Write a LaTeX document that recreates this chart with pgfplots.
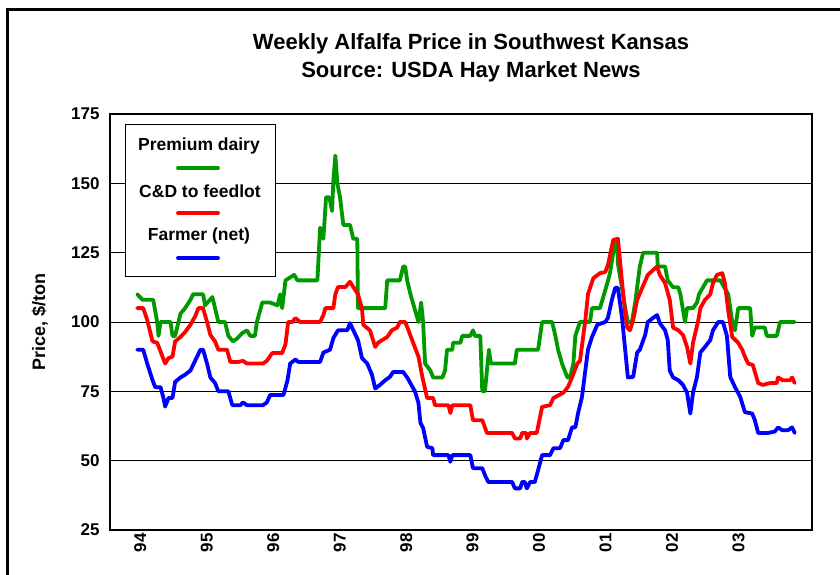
\documentclass[border=0pt]{standalone}
\usepackage{pgfplots}
\pgfplotsset{compat=1.18}
\usepackage{fontspec}
\setmainfont{Liberation Sans}
\definecolor{cgreen}{RGB}{0,153,0}
\definecolor{cred}{RGB}{255,0,0}
\definecolor{cblue}{RGB}{0,0,255}
\begin{document}
\begin{tikzpicture}
\useasboundingbox (0pt,0pt) rectangle (840pt,575pt);
\draw[line width=3pt] (7pt,-20pt) -- (7pt,565pt) -- (870pt,565pt);
\node[font=\bfseries\fontsize{22}{28.5}\selectfont, align=center] at (471pt,517pt) {Weekly Alfalfa Price in Southwest Kansas\\Source: USDA Hay Market News};
\begin{axis}[
  at={(110pt,45pt)}, anchor=south west,
  width=702pt, height=416pt, scale only axis,
  xmin=1993.56, xmax=2004.12, ymin=25, ymax=175,
  ytick={25,50,75,100,125,150,175},
  xtick={1994,1995,1996,1997,1998,1999,2000,2001,2002,2003},
  xticklabels={94,95,96,97,98,99,00,01,02,03},
  major tick length=0pt,
  ymajorgrids, major grid style={black, line width=0.9pt},
  axis line style={line width=2.6pt},
  /pgf/number format/assume math mode=true,
  ticklabel style={font=\bfseries\fontsize{17}{17}\selectfont},
  xticklabel style={rotate=90, anchor=east, yshift=-1pt},
  yticklabel style={xshift=-7pt},
  ylabel={Price, \$/ton},
  ylabel style={font=\bfseries\fontsize{18}{18}\selectfont, at={(axis description cs:-0.1,0.5)}, anchor=center},
  every axis plot/.append style={line width=3.8pt, line join=round, line cap=round},
]
\addplot[cgreen] coordinates {(1993.97,110)(1994.05,108)(1994.21,108)(1994.27,100)(1994.29,95)(1994.32,100)(1994.47,100)(1994.50,95)(1994.54,95)(1994.62,103)(1994.69,105)(1994.77,108)(1994.81,110)(1994.96,110)(1994.99,106)(1995.10,109)(1995.14,105)(1995.19,100)(1995.29,100)(1995.34,95)(1995.41,93)(1995.47,94)(1995.55,96)(1995.62,97)(1995.67,95)(1995.74,95)(1995.77,100)(1995.85,107)(1995.97,107)(1996.08,106)(1996.12,110)(1996.15,105)(1996.20,115)(1996.33,117)(1996.38,115)(1996.68,115)(1996.72,134)(1996.77,130)(1996.81,145)(1996.86,145)(1996.90,140)(1996.92,151)(1996.95,160)(1996.98,150)(1997.02,145)(1997.07,135)(1997.17,135)(1997.22,130)(1997.28,130)(1997.29,105)(1997.70,105)(1997.73,115)(1997.92,115)(1997.97,120)(1998.00,120)(1998.03,115)(1998.08,110)(1998.14,105)(1998.20,100)(1998.24,107)(1998.27,100)(1998.30,85)(1998.38,82.5)(1998.42,80)(1998.56,80)(1998.60,82.5)(1998.63,90)(1998.71,90)(1998.72,92.5)(1998.83,92.5)(1998.86,95)(1998.98,95)(1999.02,97)(1999.05,95)(1999.13,95)(1999.16,75)(1999.20,75)(1999.26,90)(1999.29,85)(1999.65,85)(1999.68,90)(2000.00,90)(2000.06,100)(2000.21,100)(2000.26,95)(2000.30,90)(2000.36,85)(2000.44,80)(2000.48,80)(2000.53,85)(2000.56,95)(2000.63,100)(2000.78,100)(2000.81,105)(2000.93,105)(2000.98,109)(2001.04,114)(2001.08,117.5)(2001.13,125)(2001.19,130)(2001.20,121)(2001.26,112.5)(2001.31,105)(2001.35,100)(2001.41,100)(2001.46,107)(2001.53,120)(2001.58,125)(2001.79,125)(2001.80,120)(2001.91,120)(2001.95,115)(2002.03,112.5)(2002.11,112.5)(2002.14,110)(2002.21,100)(2002.24,105)(2002.33,105)(2002.39,107)(2002.42,110)(2002.48,112.5)(2002.54,115)(2002.74,115)(2002.86,110)(2002.92,100)(2002.96,97)(2003.01,105)(2003.19,105)(2003.22,95)(2003.26,98)(2003.41,98)(2003.44,95)(2003.59,95)(2003.64,100)(2003.86,100)};
\addplot[cred] coordinates {(1993.97,105)(1994.06,105)(1994.12,100.7)(1994.20,93)(1994.27,92.5)(1994.35,87.5)(1994.39,85)(1994.44,87)(1994.50,87.5)(1994.54,93)(1994.62,94.6)(1994.69,96.4)(1994.77,99)(1994.84,102)(1994.89,105)(1994.96,105)(1995.02,100)(1995.07,95.3)(1995.14,93)(1995.19,90)(1995.32,90)(1995.37,85.6)(1995.49,85.6)(1995.56,86)(1995.62,85)(1995.86,85)(1995.92,86)(1996.00,88.8)(1996.15,88.8)(1996.20,92)(1996.24,100)(1996.30,100)(1996.35,101.4)(1996.42,100)(1996.72,100)(1996.77,102.5)(1996.80,105)(1996.92,105)(1996.95,110)(1996.99,112.6)(1997.10,112.6)(1997.17,114.5)(1997.22,112.6)(1997.29,110)(1997.35,105)(1997.37,99)(1997.47,97)(1997.55,91)(1997.59,92.5)(1997.73,94.6)(1997.80,97)(1997.88,98)(1997.92,100)(1998.00,100)(1998.05,97)(1998.12,92.5)(1998.20,87.5)(1998.26,80)(1998.33,72.6)(1998.42,72.6)(1998.45,70)(1998.65,70)(1998.68,67.2)(1998.71,70)(1998.98,70)(1999.02,64.6)(1999.16,64.6)(1999.23,60)(1999.61,60)(1999.65,58)(1999.73,58)(1999.76,60)(1999.82,60)(1999.83,58)(1999.88,60)(1999.98,60)(2000.06,69.4)(2000.18,70)(2000.23,72.6)(2000.38,74.5)(2000.45,76.6)(2000.51,80)(2000.59,85)(2000.63,86)(2000.71,100.7)(2000.75,110)(2000.83,115.8)(2000.93,117.6)(2001.01,118)(2001.05,120.5)(2001.13,129.6)(2001.20,130)(2001.26,115)(2001.31,103)(2001.34,98)(2001.38,97)(2001.43,100.7)(2001.49,108)(2001.56,112)(2001.65,117)(2001.79,120)(2001.83,117)(2001.91,114)(2001.98,108)(2002.03,98)(2002.11,97)(2002.18,95.3)(2002.24,91)(2002.29,85)(2002.33,92.5)(2002.41,100.7)(2002.44,105)(2002.51,108)(2002.59,110)(2002.63,114)(2002.69,117)(2002.77,117.6)(2002.81,114)(2002.86,104)(2002.92,94.6)(2003.01,92.5)(2003.07,90)(2003.11,87.5)(2003.16,85)(2003.23,84.5)(2003.31,78)(2003.38,77.3)(2003.49,78)(2003.59,78)(2003.61,80)(2003.68,79)(2003.79,79)(2003.82,80)(2003.86,78)};
\addplot[cblue] coordinates {(1993.97,90)(1994.06,90)(1994.12,85)(1994.20,79)(1994.24,76.5)(1994.32,76.5)(1994.36,73)(1994.39,69.5)(1994.44,72.6)(1994.50,72.6)(1994.54,78.4)(1994.62,80)(1994.69,81)(1994.77,82.5)(1994.81,84.5)(1994.87,87.5)(1994.92,90)(1994.96,90)(1995.02,85)(1995.07,80)(1995.14,78)(1995.19,75)(1995.34,75)(1995.40,70)(1995.52,70)(1995.56,71)(1995.62,70)(1995.86,70)(1995.92,71)(1995.97,73.7)(1996.17,73.7)(1996.23,79)(1996.27,85)(1996.35,86.5)(1996.39,85.6)(1996.72,85.6)(1996.77,89)(1996.87,90)(1996.92,94.2)(1996.99,97)(1997.13,97)(1997.17,99.6)(1997.22,97)(1997.29,93.5)(1997.35,87)(1997.43,85)(1997.50,81)(1997.55,76)(1997.62,77.3)(1997.70,79)(1997.77,80.2)(1997.82,82)(1997.97,82)(1998.03,80)(1998.11,76.6)(1998.15,74.8)(1998.20,70.8)(1998.23,63.6)(1998.27,61.8)(1998.33,55)(1998.41,54.5)(1998.42,52)(1998.65,52)(1998.68,49.6)(1998.71,52)(1998.98,52)(1999.02,47.3)(1999.16,47.3)(1999.20,44.8)(1999.25,42.3)(1999.61,42.3)(1999.65,40)(1999.73,40)(1999.76,42.3)(1999.80,42.3)(1999.83,40)(1999.88,42.3)(1999.95,42.3)(2000.00,46.6)(2000.06,52)(2000.18,52)(2000.23,54.5)(2000.33,54.5)(2000.38,57.4)(2000.45,57.4)(2000.51,62)(2000.56,62)(2000.60,67)(2000.66,73)(2000.71,82.5)(2000.75,90)(2000.81,94.6)(2000.89,99)(2001.01,100)(2001.05,101.5)(2001.11,108)(2001.16,112.3)(2001.20,112.3)(2001.26,102)(2001.31,90)(2001.35,80)(2001.43,80.2)(2001.49,89)(2001.53,90)(2001.61,95.3)(2001.65,100)(2001.73,101.5)(2001.79,102.5)(2001.83,99.6)(2001.91,97)(2001.95,93.5)(2001.98,82.5)(2002.03,80)(2002.11,79)(2002.18,77.3)(2002.24,74.5)(2002.29,67)(2002.33,74.5)(2002.39,80.2)(2002.44,89)(2002.51,91)(2002.59,93.5)(2002.63,97)(2002.71,100)(2002.78,100)(2002.84,95)(2002.89,80.2)(2002.96,76.6)(2003.04,73)(2003.11,67.5)(2003.22,67)(2003.26,64.6)(2003.31,60)(2003.46,60)(2003.56,60.5)(2003.61,62)(2003.67,61)(2003.76,61)(2003.82,62)(2003.86,60)};
\end{axis}
% legend
\draw[fill=white, line width=0.8pt] (125pt,299pt) rectangle (275pt,451pt);
\begin{scope}[font=\bfseries\fontsize{17.5}{17.5}\selectfont]
\node at (199pt,429pt) {Premium dairy};
\node at (200pt,384pt) {C\&D to feedlot};
\node at (199pt,339pt) {Farmer (net)};
\end{scope}
\draw[cgreen, line width=3.8pt, line cap=round] (178pt,407pt) -- (218pt,407pt);
\draw[cred, line width=3.8pt, line cap=round] (178pt,362pt) -- (218pt,362pt);
\draw[cblue, line width=3.8pt, line cap=round] (178pt,317pt) -- (218pt,317pt);
\end{tikzpicture}
\end{document}
